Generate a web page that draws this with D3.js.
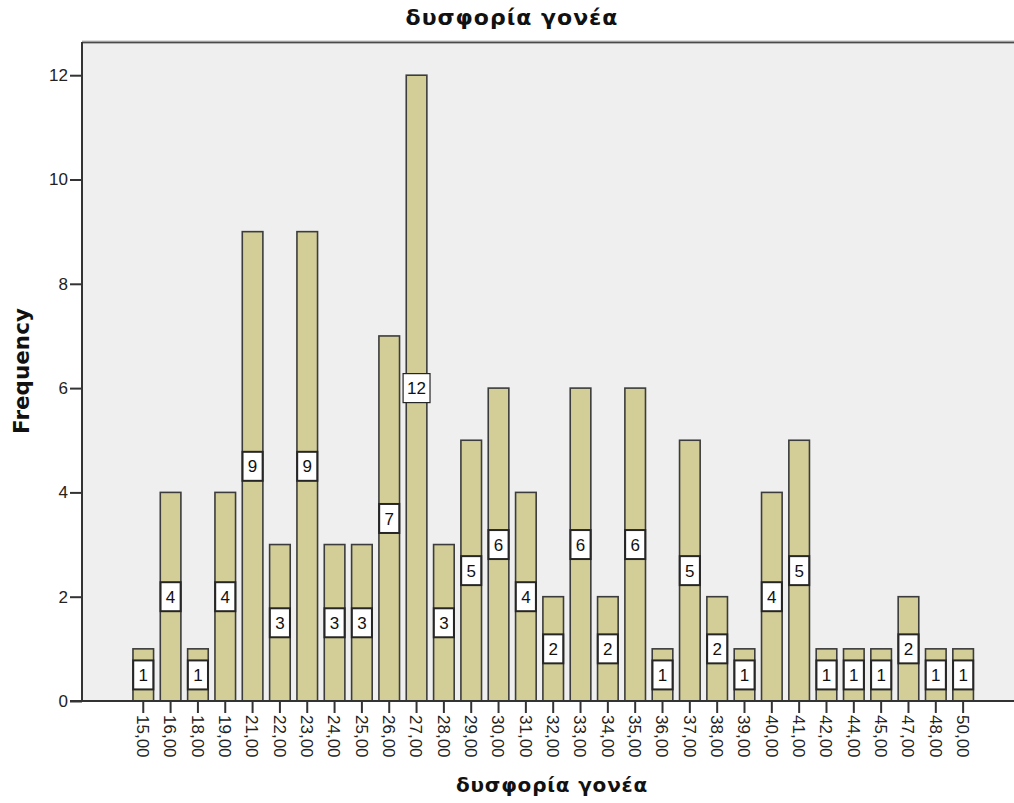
<!DOCTYPE html>
<html>
<head>
<meta charset="utf-8">
<script src="https://cdn.jsdelivr.net/npm/d3@7/dist/d3.min.js"></script>
<style>
  html, body { margin: 0; padding: 0; background: #fff; }
  svg { display: block; }
</style>
</head>
<body>
<svg id="chart" width="1014" height="803"></svg>
<script>
const categories = ["15,00","16,00","18,00","19,00","21,00","22,00","23,00","24,00","25,00","26,00","27,00","28,00","29,00","30,00","31,00","32,00","33,00","34,00","35,00","36,00","37,00","38,00","39,00","40,00","41,00","42,00","44,00","45,00","47,00","48,00","50,00"];
const counts = [1,4,1,4,9,3,9,3,3,7,12,3,5,6,4,2,6,2,6,1,5,2,1,4,5,1,1,1,2,1,1];
const yTicks = [0,2,4,6,8,10,12];
const title = "δυσφορία γονέα";
const xTitle = "δυσφορία γονέα";
const yTitle = "Frequency";

const W = 1014, H = 803;
const plot = { left: 82, top: 42, right: 1016, bottom: 701 };
const svg = d3.select("#chart");
const numFont = "Liberation Sans, Arial, sans-serif";
const boldFont = "DejaVu Sans, Verdana, sans-serif";

const x = d3.scaleBand()
  .domain(categories)
  .range([119.3, 987.1])
  .paddingInner(0.246)
  .paddingOuter(0.5);

const y = d3.scaleLinear().domain([0, 12]).range([701, 75.2]);

// plot background
svg.append("rect")
  .attr("x", plot.left).attr("y", plot.top)
  .attr("width", plot.right - plot.left).attr("height", plot.bottom - plot.top)
  .attr("fill", "#efefef");

// top frame line
svg.append("line")
  .attr("x1", plot.left).attr("x2", plot.right)
  .attr("y1", plot.top).attr("y2", plot.top)
  .attr("stroke", "#bdbdbd").attr("stroke-width", 3);
svg.append("line")
  .attr("x1", plot.left).attr("x2", plot.right)
  .attr("y1", plot.top + 0.5).attr("y2", plot.top + 0.5)
  .attr("stroke", "#4a4a4a").attr("stroke-width", 1.5);

// bars
const bw = x.bandwidth();
svg.append("g").selectAll("rect")
  .data(counts)
  .join("rect")
  .attr("x", (d, i) => x(categories[i]))
  .attr("y", d => y(d))
  .attr("width", bw)
  .attr("height", d => y(0) - y(d))
  .attr("fill", "#d3ce97")
  .attr("stroke", "#3c3c3c")
  .attr("stroke-width", 1.6);

// value labels
const lg = svg.append("g");
counts.forEach((d, i) => {
  const cx = x(categories[i]) + bw / 2;
  const cy = y(d / 2);
  const g = lg.append("g");
  const t = g.append("text")
    .attr("x", cx).attr("y", cy)
    .attr("dy", "0.36em")
    .attr("text-anchor", "middle")
    .attr("font-family", numFont)
    .attr("font-size", 17)
    .attr("fill", "#111")
    .text(d);
  const tw = t.node().getComputedTextLength();
  const bwid = Math.max(bw - 0.5, tw + 8);
  g.insert("rect", "text")
    .attr("x", cx - bwid / 2).attr("y", cy - 14.5)
    .attr("width", bwid).attr("height", 29)
    .attr("fill", "#fff")
    .attr("stroke", "#262626")
    .attr("stroke-width", d >= 10 ? 1.2 : 2);
});

// y axis
const yAxis = svg.append("g")
  .attr("transform", `translate(${plot.left},0)`)
  .call(d3.axisLeft(y).tickValues(yTicks).tickSize(12).tickPadding(2).tickFormat(d3.format("d")));
yAxis.select(".domain").remove();
yAxis.selectAll(".tick line").attr("stroke", "#333").attr("stroke-width", 2);
yAxis.selectAll(".tick text")
  .attr("font-family", numFont)
  .attr("font-size", 17).attr("fill", "#222");
svg.append("line")
  .attr("x1", plot.left).attr("x2", plot.left)
  .attr("y1", plot.top).attr("y2", plot.bottom + 1)
  .attr("stroke", "#333").attr("stroke-width", 2);

// x axis
const xAxis = svg.append("g")
  .attr("transform", `translate(0,${plot.bottom})`)
  .call(d3.axisBottom(x).tickSize(12).tickPadding(0));
xAxis.select(".domain").remove();
xAxis.selectAll(".tick line").attr("stroke", "#333").attr("stroke-width", 2);
xAxis.selectAll(".tick text")
  .attr("font-family", numFont)
  .attr("font-size", 17).attr("fill", "#222")
  .attr("text-anchor", "start")
  .attr("transform", "translate(0,14) rotate(90)")
  .attr("x", 0).attr("y", 0).attr("dy", "0.36em");
svg.append("line")
  .attr("x1", plot.left - 12).attr("x2", plot.right)
  .attr("y1", plot.bottom).attr("y2", plot.bottom)
  .attr("stroke", "#333").attr("stroke-width", 2);

// titles
svg.append("text")
  .attr("x", 512).attr("y", 25)
  .attr("text-anchor", "middle")
  .attr("font-family", boldFont)
  .attr("font-weight", "bold")
  .attr("font-size", 22)
  .attr("letter-spacing", 1)
  .attr("fill", "#111")
  .text(title);

svg.append("text")
  .attr("x", 552).attr("y", 792)
  .attr("text-anchor", "middle")
  .attr("font-family", boldFont)
  .attr("font-weight", "bold")
  .attr("font-size", 20)
  .attr("letter-spacing", 0.8)
  .attr("fill", "#111")
  .text(xTitle);

svg.append("text")
  .attr("transform", "translate(29,371) rotate(-90)")
  .attr("text-anchor", "middle")
  .attr("font-family", boldFont)
  .attr("font-weight", "bold")
  .attr("font-size", 21.5)
  .attr("fill", "#111")
  .text(yTitle);
</script>
</body>
</html>
